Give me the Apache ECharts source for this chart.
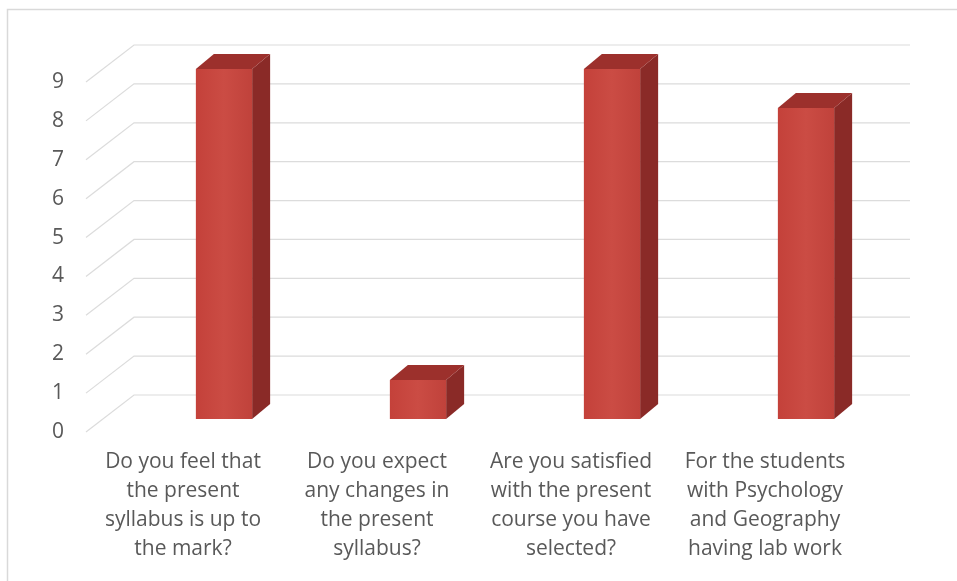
<!DOCTYPE html>
<html>
<head>
<meta charset="utf-8">
<script src="https://cdn.jsdelivr.net/npm/echarts@6/dist/echarts.min.js"></script>
<style>
  html, body { margin: 0; padding: 0; background: #fff; }
  #chart { width: 957px; height: 581px; }
</style>
</head>
<body>
<div id="chart"></div>
<script>
// 数据
const categories = [
  'Do you feel that\nthe present\nsyllabus is up to\nthe mark?',
  'Do you expect\nany changes in\nthe present\nsyllabus?',
  'Are you satisfied\nwith the present\ncourse you have\nselected?',
  'For the students\nwith Psychology\nand Geography\nhaving lab work'
];
const values = [9, 1, 9, 8];
const yTicks = [0, 1, 2, 3, 4, 5, 6, 7, 8, 9];

// 3D 效果参数
const WALL_DX = 48, WALL_DY = -37;   // 底面深度
const BAR_SHIFT_X = 41, BAR_SHIFT_Y = -13; // 柱体前面相对坐标的偏移
const BAR_DX = 18, BAR_DY = -15;     // 柱体厚度
const BAR_RATIO = 0.29;

const chart = echarts.init(document.getElementById('chart'));

// 网格线：前沿 -> 后墙 -> 右侧
function renderGrid(params, api) {
  const v = api.value(1);
  const p = api.coord([0, v]);
  const cs = params.coordSys;
  const x0 = cs.x;
  return {
    type: 'polyline',
    shape: {
      points: [
        [x0, p[1]],
        [x0 + WALL_DX, p[1] + WALL_DY],
        [cs.x + cs.width + WALL_DX, p[1] + WALL_DY]
      ]
    },
    style: { stroke: '#dcdcdc', lineWidth: 1.2, fill: null }
  };
}

// 立体柱
function renderBar(params, api) {
  const idx = api.value(0);
  const val = api.value(1);
  const base = api.coord([idx, 0]);
  const top = api.coord([idx, val]);
  const bw = api.size([1, 0])[0] * BAR_RATIO;
  const fl = base[0] + BAR_SHIFT_X - bw / 2;
  const fr = fl + bw;
  const ft = top[1] + BAR_SHIFT_Y;
  const fb = base[1] + BAR_SHIFT_Y;
  return {
    type: 'group',
    children: [
      {
        type: 'polygon',
        shape: { points: [[fr, ft], [fr + BAR_DX, ft + BAR_DY], [fr + BAR_DX, fb + BAR_DY], [fr, fb]] },
        style: { fill: '#8a2a27' }
      },
      {
        type: 'polygon',
        shape: { points: [[fl, ft], [fl + BAR_DX, ft + BAR_DY], [fr + BAR_DX, ft + BAR_DY], [fr, ft]] },
        style: { fill: '#9c302c' }
      },
      {
        type: 'rect',
        shape: { x: fl, y: ft, width: bw, height: fb - ft },
        style: {
          fill: new echarts.graphic.LinearGradient(0, 0, 1, 0, [
            { offset: 0, color: '#c4413a' },
            { offset: 0.5, color: '#cb4c44' },
            { offset: 1, color: '#c0423b' }
          ])
        }
      }
    ]
  };
}

chart.setOption({
  backgroundColor: '#fff',
  animation: false,
  textStyle: { fontFamily: 'Open Sans' },
  graphic: [{
    type: 'rect',
    shape: { x: 7.5, y: 9.5, width: 1000, height: 700 },
    style: { fill: null, stroke: '#d9d9d9', lineWidth: 1.5 },
    z: -10
  }],
  grid: { left: 86, right: 95, top: 82, bottom: 149 },
  xAxis: {
    type: 'category',
    data: categories,
    axisLine: { show: false },
    axisTick: { show: false },
    axisLabel: {
      interval: 0,
      color: '#595959',
      fontSize: 21,
      lineHeight: 29,
      margin: 16,
      fontFamily: 'Open Sans'
    }
  },
  yAxis: {
    type: 'value',
    min: 0,
    max: 9,
    interval: 1,
    axisLine: { show: false },
    axisTick: { show: false },
    splitLine: { show: false },
    axisLabel: {
      color: '#595959',
      fontSize: 21,
      margin: 22,
      fontFamily: 'Open Sans'
    }
  },
  series: [
    {
      type: 'custom',
      renderItem: renderGrid,
      data: yTicks.map(v => [0, v]),
      encode: { x: 0, y: 1 },
      clip: false,
      silent: true,
      z: 1
    },
    {
      type: 'custom',
      renderItem: renderBar,
      data: values.map((v, i) => [i, v]),
      encode: { x: 0, y: 1 },
      clip: false,
      z: 2
    }
  ]
});
</script>
</body>
</html>
